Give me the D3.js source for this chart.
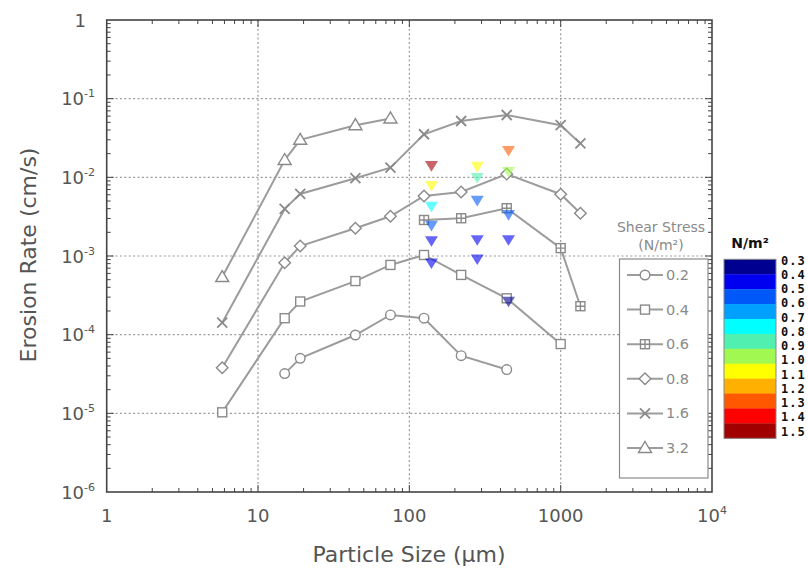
<!DOCTYPE html>
<html><head><meta charset="utf-8">
<script src="https://cdn.jsdelivr.net/npm/d3@7"></script>
<style>
body{margin:0;background:#fff;}
svg{display:block;font-family:"DejaVu Sans",sans-serif;}
</style>
</head><body>
<svg id="c" width="808" height="571"></svg>
<script>
// ---------- data ----------
const xTickValues = [1, 10, 100, 1000, 10000];
const xTickBase   = ["1", "10", "100", "1000", "10"];
const xTickExp    = ["", "", "", "", "4"];
const yTickValues = [1, 1e-1, 1e-2, 1e-3, 1e-4, 1e-5, 1e-6];
const yTickBase   = ["1", "10", "10", "10", "10", "10", "10"];
const yTickExp    = ["", "-1", "-2", "-3", "-4", "-5", "-6"];

const seriesNames   = ["0.2", "0.4", "0.6", "0.8", "1.6", "3.2"];
const seriesSymbols = ["circle", "square", "squarePlus", "diamond", "cross", "triangle"];

const size02 = [15, 19, 44, 75, 125, 220, 440];
const rate02 = [3.2e-5, 5.0e-5, 9.9e-5, 1.78e-4, 1.62e-4, 5.4e-5, 3.6e-5];
const size04 = [5.8, 15, 19, 44, 75, 125, 220, 440, 1000];
const rate04 = [1.03e-5, 1.62e-4, 2.64e-4, 4.8e-4, 7.7e-4, 1.03e-3, 5.75e-4, 2.9e-4, 7.6e-5];
const size06 = [125, 220, 440, 1000, 1350];
const rate06 = [2.87e-3, 3.02e-3, 4.05e-3, 1.26e-3, 2.3e-4];
const size08 = [5.8, 15, 19, 44, 75, 125, 220, 440, 1000, 1350];
const rate08 = [3.8e-5, 8.2e-4, 1.34e-3, 2.25e-3, 3.2e-3, 5.8e-3, 6.5e-3, 1.1e-2, 6.1e-3, 3.5e-3];
const size16 = [5.8, 15, 19, 44, 75, 125, 220, 440, 1000, 1350];
const rate16 = [1.42e-4, 3.97e-3, 6.15e-3, 9.75e-3, 1.33e-2, 3.53e-2, 5.2e-2, 6.2e-2, 4.6e-2, 2.7e-2];
const size32 = [5.8, 15, 19, 44, 75];
const rate32 = [5.4e-4, 1.66e-2, 3.0e-2, 4.6e-2, 5.6e-2];

const seriesSizes = [size02, size04, size06, size08, size16, size32];
const seriesRates = [rate02, rate04, rate06, rate08, rate16, rate32];

// coloured measurements (shear stress, N/m2)
const stressSize  = [140, 140, 140, 140, 140, 140, 281, 281, 281, 281, 281, 452, 452, 452, 452, 452];
const stressRate  = [0.0140, 0.00778, 0.00425, 0.00243, 0.00155, 0.00081,
                     0.0137, 0.0099, 0.00506, 0.0016, 0.00091,
                     0.0218, 0.0118, 0.00333, 0.0016, 0.000264];
const stressValue = [1.45, 1.05, 0.75, 0.55, 0.45, 0.45,
                     1.05, 0.85, 0.55, 0.45, 0.45,
                     1.25, 0.95, 0.55, 0.45, 0.35];

const cbLabels = ["0.3","0.4","0.5","0.6","0.7","0.8","0.9","1.0","1.1","1.2","1.3","1.4","1.5"];
const cbColors = ["#000090","#0000f0","#0058f8","#00a0ff","#00ffff","#50f0b0",
                  "#a0f850","#ffff00","#ffb000","#ff5800","#ff0000","#a00000"];

// ---------- scales ----------
const svg = d3.select("#c");
const L = 106.7, R = 712, T = 20, B = 492;
const x = d3.scaleLog().domain([1, 1e4]).range([L, R]);
const y = d3.scaleLog().domain([1e-6, 1]).range([B, T]);
const color = d3.scaleQuantize().domain([0.3, 1.5]).range(cbColors);

const lineCol = "#9c9c9c", markCol = "#8a8a8a", textCol = "#555";

// ---------- grid ----------
const gGrid = svg.append("g").attr("stroke", "#9a9a9a").attr("stroke-width", 1.2)
  .attr("stroke-dasharray", "2,2.4");
gGrid.selectAll(".gx").data(xTickValues.slice(1, -1)).join("line")
  .attr("x1", d => x(d)).attr("x2", d => x(d)).attr("y1", T).attr("y2", B);
gGrid.selectAll(".gy").data(yTickValues.slice(1, -1)).join("line")
  .attr("x1", L).attr("x2", R).attr("y1", d => y(d)).attr("y2", d => y(d));

// ---------- markers ----------
function marker(g, type, cx, cy) {
  const s = g.append("g").attr("transform", `translate(${cx},${cy})`)
    .attr("stroke", markCol).attr("stroke-width", 1.4).attr("fill", "#fff");
  if (type === "circle") s.append("circle").attr("r", 4.8);
  else if (type === "square") s.append("rect").attr("x", -4.5).attr("y", -4.5).attr("width", 9).attr("height", 9);
  else if (type === "squarePlus") {
    s.append("rect").attr("x", -4.5).attr("y", -4.5).attr("width", 9).attr("height", 9);
    s.append("path").attr("d", "M0,-4.5V4.5M-4.5,0H4.5");
  }
  else if (type === "diamond") s.append("path").attr("d", "M0,-5.8L5.8,0L0,5.8L-5.8,0Z");
  else if (type === "cross") s.append("path").attr("fill", "none").attr("stroke-width", 1.8)
    .attr("d", "M-5,-5L5,5M-5,5L5,-5");
  else if (type === "triangle") s.append("path").attr("d", "M0,-6.5L6.5,4.5L-6.5,4.5Z");
}

// ---------- series ----------
const line = d3.line().x(d => x(d[0])).y(d => y(d[1]));
const gS = svg.append("g");
seriesNames.forEach((n, i) => {
  const pts = d3.zip(seriesSizes[i], seriesRates[i]);
  gS.append("path").datum(pts).attr("d", line).attr("fill", "none")
    .attr("stroke", lineCol).attr("stroke-width", 2);
});
seriesNames.forEach((n, i) => {
  d3.zip(seriesSizes[i], seriesRates[i]).forEach(p => marker(gS, seriesSymbols[i], x(p[0]), y(p[1])));
});

// ---------- coloured triangles ----------
const tri = d3.range(stressSize.length);
svg.append("g").selectAll("path").data(tri).join("path")
  .attr("transform", i => `translate(${x(stressSize[i])},${y(stressRate[i])})`)
  .attr("d", "M-6.5,-4.8L6.5,-4.8L0,5.8Z")
  .attr("fill", i => color(stressValue[i]))
  .attr("fill-opacity", 0.6);

// ---------- frame & ticks ----------
const gA = svg.append("g").attr("stroke", "#444");
gA.append("rect").attr("x", L).attr("y", T).attr("width", R - L).attr("height", B - T)
  .attr("fill", "none").attr("stroke-width", 1.6);
const isMajor = v => Math.abs(Math.log10(v) - Math.round(Math.log10(v))) < 1e-9;
const xt = x.ticks().filter(v => v > 1 && v < 1e4);
const yt = y.ticks().filter(v => v > 1e-6 && v < 1);
xt.forEach(v => {
  const len = isMajor(v) ? 7 : 4;
  gA.append("line").attr("x1", x(v)).attr("x2", x(v)).attr("y1", B).attr("y2", B - len).attr("stroke-width", 1);
  gA.append("line").attr("x1", x(v)).attr("x2", x(v)).attr("y1", T).attr("y2", T + len).attr("stroke-width", 1);
});
yt.forEach(v => {
  const len = isMajor(v) ? 7 : 4;
  gA.append("line").attr("x1", L).attr("x2", L + len).attr("y1", y(v)).attr("y2", y(v)).attr("stroke-width", 1);
  gA.append("line").attr("x1", R).attr("x2", R - len).attr("y1", y(v)).attr("y2", y(v)).attr("stroke-width", 1);
});

// ---------- tick labels ----------
const gL = svg.append("g").attr("fill", textCol).attr("font-size", 18);
xTickValues.forEach((v, i) => {
  const t = gL.append("text").attr("x", x(v)).attr("y", 522).attr("text-anchor", "middle");
  t.append("tspan").text(xTickBase[i]);
  if (xTickExp[i]) t.append("tspan").attr("dy", -8).attr("font-size", 11).text(xTickExp[i]);
});
yTickValues.forEach((v, i) => {
  const t = gL.append("text").attr("x", i === 0 ? 86 : 95).attr("y", y(v) + 6.5).attr("text-anchor", "end");
  t.append("tspan").text(yTickBase[i]);
  if (yTickExp[i]) t.append("tspan").attr("dy", -8).attr("font-size", 11).text(yTickExp[i]);
});

// ---------- axis titles ----------
svg.append("text").attr("x", 409).attr("y", 562).attr("text-anchor", "middle")
  .attr("font-size", 22).attr("fill", textCol).text("Particle Size (µm)");
svg.append("text").attr("transform", "translate(36,255) rotate(-90)").attr("text-anchor", "middle")
  .attr("font-size", 22).attr("fill", textCol).text("Erosion Rate (cm/s)");

// ---------- legend ----------
const gLeg = svg.append("g");
gLeg.append("text").attr("x", 661).attr("y", 232).attr("text-anchor", "middle")
  .attr("font-size", 14).attr("fill", "#8a8a8a").text("Shear Stress");
gLeg.append("text").attr("x", 661).attr("y", 250).attr("text-anchor", "middle")
  .attr("font-size", 14).attr("fill", "#8a8a8a").text("(N/m²)");
gLeg.append("rect").attr("x", 619.5).attr("y", 259).attr("width", 88.5).attr("height", 219)
  .attr("fill", "#fff").attr("stroke", "#8a8a8a").attr("stroke-width", 1.2);
seriesNames.forEach((n, i) => {
  const yy = 275 + i * 34.6;
  gLeg.append("line").attr("x1", 627).attr("x2", 663).attr("y1", yy).attr("y2", yy)
    .attr("stroke", lineCol).attr("stroke-width", 2);
  marker(gLeg, seriesSymbols[i], 645, yy);
  gLeg.append("text").attr("x", 666).attr("y", yy + 5).attr("font-size", 14.5)
    .attr("fill", "#8a8a8a").text(n);
});

// ---------- colour bar ----------
const cbY = d3.scaleLinear().domain([0.3, 1.5]).range([259.3, 438.3]);
const cbLab = d3.scaleLinear().domain([0, cbLabels.length - 1]).range([260, 431]);
const gCb = svg.append("g");
gCb.append("text").attr("x", 750).attr("y", 248).attr("text-anchor", "middle")
  .attr("font-size", 14).attr("font-weight", "bold").attr("fill", "#111").text("N/m²");
gCb.selectAll("rect.b").data(cbColors).join("rect")
  .attr("x", 724).attr("width", 52)
  .attr("y", (c, i) => cbY(0.3 + i * 0.1))
  .attr("height", (c, i) => cbY(0.3 + (i + 1) * 0.1) - cbY(0.3 + i * 0.1) + 0.3)
  .attr("fill", c => c);
gCb.append("rect").attr("x", 724).attr("y", 259.3).attr("width", 52).attr("height", 179)
  .attr("fill", "none").attr("stroke", "#888").attr("stroke-width", 1);
gCb.selectAll("text.l").data(cbLabels).join("text")
  .attr("x", 781).attr("y", (d, i) => cbLab(i) + 4.5)
  .attr("font-family", "'DejaVu Sans Mono', monospace").attr("font-weight", "bold")
  .attr("font-size", 12).attr("letter-spacing", 1).attr("fill", "#111").text(d => d);
</script>
</body></html>
